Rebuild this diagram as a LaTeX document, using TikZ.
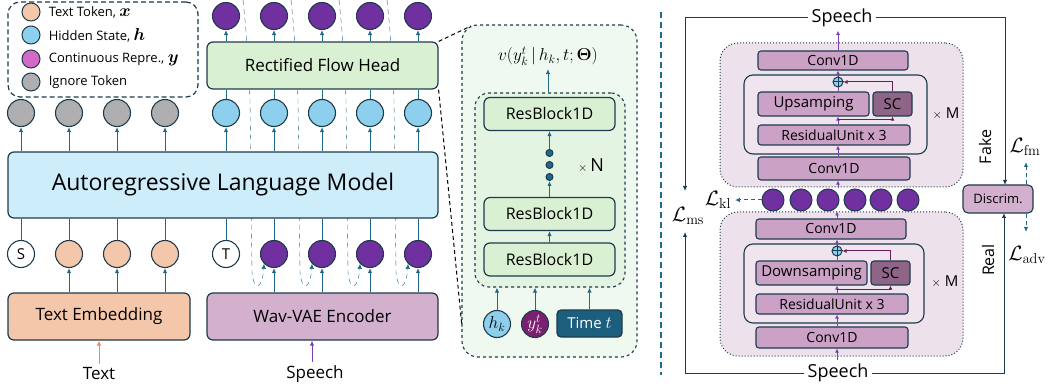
\documentclass[tikz,border=0pt]{standalone}
\usepackage[no-math]{fontspec}
\setmainfont{Open Sans}
\usepackage{amsmath,bm}
\usetikzlibrary{arrows.meta,backgrounds,calc}
\tikzset{
every picture/.style={
line width=1pt
}}
\definecolor{edge}{HTML}{1D3B4C}
\definecolor{link}{HTML}{1F6A8A}
\definecolor{peach}{HTML}{F5C7AA}
\definecolor{sky}{HTML}{8DCFEC}
\definecolor{almfill}{HTML}{CDEDFA}
\definecolor{mint}{HTML}{D9F0D2}
\definecolor{tokpurple}{HTML}{7030A0}
\definecolor{legpurple}{HTML}{D36AC8}
\definecolor{ignore}{HTML}{AFAFAF}
\definecolor{vae}{HTML}{D4B0CF}
\definecolor{zoomfill}{HTML}{EFF9EF}
\definecolor{zoominner}{HTML}{E4F4E2}
\definecolor{timefill}{HTML}{1B5E7E}
\definecolor{ykfill}{HTML}{7B2070}
\definecolor{conv}{HTML}{CCA1C6}
\definecolor{scfill}{HTML}{8E6487}
\definecolor{vaebg}{HTML}{EDE1EB}
\definecolor{stagebg}{HTML}{F0E4EE}
\definecolor{flow}{HTML}{7B3FB0}
\definecolor{skip}{HTML}{6B1A5A}
\definecolor{textarrow}{HTML}{F08A4B}
\newcommand{\fsz}[1]{\fontsize{#1}{#1}\selectfont}

\begin{document}
\begin{tikzpicture}[x=1pt, y=-1pt,
block/.style = {rectangle, draw=edge, line width=1.2pt, rounded corners=6pt, inner sep=0pt, font=\fsz{17}},
tok/.style = {circle, draw=edge, line width=1.1pt, minimum size=27pt, inner sep=0pt, font=\fsz{15}},
legtok/.style = {circle, draw=edge, line width=1pt, minimum size=18pt, inner sep=0pt},
legtext/.style = {anchor=west, font=\fsz{13}},
arr/.style = {draw=link, -{Latex[length=5pt,width=4.5pt]}},
wire/.style = {draw=link},
fback/.style = {draw=link, dash pattern=on 5pt off 4pt, -{Latex[length=5pt,width=4.5pt]}},
zoomline/.style = {draw=black, dash pattern=on 4pt off 3pt},
layer/.style = {rectangle, draw=edge, line width=1.1pt, rounded corners=3pt, fill=conv, inner sep=0pt, font=\fsz{14}},
vaebox/.style = {rectangle, draw=edge, dotted, line width=1pt, rounded corners=18pt, fill=vaebg},
stage/.style = {rectangle, draw=edge, line width=1.1pt, rounded corners=9pt, fill=stagebg},
plus/.style = {circle, draw=edge, fill=sky, minimum size=10pt, inner sep=0pt},
lat/.style = {circle, draw=edge, fill=tokpurple, minimum size=22pt, inner sep=0pt},
flowarr/.style = {draw=flow, -{Latex[length=4pt,width=4pt]}},
skiparr/.style = {draw=skip, -{Latex[length=4pt,width=4pt]}},
loss/.style = {draw=edge, -{Latex[length=5pt,width=4.5pt]}},
lossarr/.style = {draw=link, dash pattern=on 4pt off 3pt, -{Latex[length=5pt,width=4.5pt]}},
mathlbl/.style = {font=\fsz{20}}]
\useasboundingbox (0,0) rectangle (1047,390);

% legend
\node[draw=edge, line width=1.2pt, dash pattern=on 5pt off 3pt, rounded corners=12pt, minimum width=190pt, minimum height=95pt] (legend) at (103,49.5) {};
\node[legtok, fill=peach] (kx) at (31,12) {};
\node[legtok, fill=sky] (kh) at (31,35) {};
\node[legtok, fill=legpurple] (ky) at (31,59) {};
\node[legtok, fill=ignore] (kg) at (31,82) {};
\node[legtext] at (45,12) {Text Token, {\fsz{17}$\boldsymbol{x}$}};
\node[legtext] at (45,35) {Hidden State, {\fsz{17}$\boldsymbol{h}$}};
\node[legtext] at (45,59) {Continuous Repre., {\fsz{17}$\boldsymbol{y}$}};
\node[legtext] at (45,82) {Ignore Token};

% main blocks
\node[block, fill=mint, minimum width=231pt, minimum height=47pt] (rfh) at (322.5,65.5) {Rectified Flow Head};
\node[block, fill=almfill, minimum width=430pt, minimum height=66pt, font=\fsz{23}] (alm) at (223,185) {Autoregressive Language Model};
\node[block, fill=peach, minimum width=182pt, minimum height=47pt] (temb) at (99,316.5) {Text Embedding};
\node[block, fill=vae, minimum width=231pt, minimum height=47pt] (venc) at (322.5,316.5) {Wav-VAE Encoder};

% tokens
\foreach \i/\x in {1/21,2/69,3/117,4/165} {
  \node[tok, fill=ignore] (g\i) at (\x,113) {};
  \draw[arr] (alm.north -| g\i) -- (g\i);
}
\foreach \i/\x in {1/226,2/274,3/322,4/370,5/418} {
  \node[tok, fill=sky] (h\i) at (\x,113) {};
  \node[tok, fill=tokpurple] (o\i) at (\x,16) {};
  \draw[arr] (alm.north -| h\i) -- (h\i);
  \draw[wire] (h\i) -- (rfh.south -| h\i);
  \draw[arr] (rfh.north -| o\i) -- (o\i);
}
\node[tok, fill=white] (s) at (21,254) {S};
\draw[wire] (s) -- (alm.south -| s);
\foreach \i/\x in {1/69,2/117,3/165} {
  \node[tok, fill=peach] (x\i) at (\x,254) {};
  \draw[arr] (temb.north -| x\i) -- (x\i);
  \draw[wire] (x\i) -- (alm.south -| x\i);
}
\node[tok, fill=white] (t) at (226,254) {T};
\draw[wire] (t) -- (alm.south -| t);
\foreach \i/\x in {1/274,2/322,3/370,4/418} {
  \node[tok, fill=tokpurple] (p\i) at (\x,254) {};
  \draw[arr] (venc.north -| p\i) -- (p\i);
  \draw[wire] (p\i) -- (alm.south -| p\i);
}
\node[font=\fsz{17}] (txt) at (99,374) {Text};
\node[font=\fsz{17}] (spl) at (315,374) {Speech};
\draw[draw=textarrow, -{Latex[length=5pt,width=4.5pt]}] (txt.north) -- (temb.south -| txt);
\draw[draw=flow, -{Latex[length=5pt,width=4.5pt]}] (spl.north -| 312,0) -- (venc.south -| 312,0);

% feedback of generated latents
\begin{scope}[on background layer]
\foreach \i/\x in {1/243,2/291,3/339,4/387} {
  \coordinate (fb\i) at (\x,0);
  \draw[fback] (fb\i) .. controls (\x+4,40) .. (\x+7,100) -- (\x+9,272) .. controls (\x+11,292) and (\x+19,290) .. (p\i.south west);
}
\end{scope}

% zoom of the flow head
\node[draw=edge, dashed, line width=1.1pt, fill=zoomfill, rounded corners=16pt, minimum width=175pt, minimum height=332pt] (zoom) at (549.5,191) {};
\node[draw=edge, dashed, line width=1.1pt, fill=zoominner, rounded corners=14pt, minimum width=150pt, minimum height=194pt] (stack) at (550,190) {};
\coordinate (zA) at (471,26);
\coordinate (zB) at (462,327);
\draw[zoomline] (rfh.north east) -- (zA);
\draw[zoomline] (rfh.south east) -- (zB);
\node[font=\fsz{18}] (vel) at (548,56) {$v(y_k^t\,|\,h_k,t;\boldsymbol{\Theta})$};
\node[block, fill=mint, minimum width=131pt, minimum height=33pt, font=\fsz{16}] (rb3) at (549.5,114) {ResBlock1D};
\node[block, fill=mint, minimum width=131pt, minimum height=33pt, font=\fsz{16}] (rb2) at (549.5,214) {ResBlock1D};
\node[block, fill=mint, minimum width=131pt, minimum height=33pt, font=\fsz{16}] (rb1) at (549.5,259.5) {ResBlock1D};
\foreach \i/\y in {1/153,2/165,3/177}
  \node[circle, fill=link, draw=edge, minimum size=7pt, inner sep=0pt] (d\i) at (549.5,\y) {};
\node[font=\fsz{18}] (nrep) at (591,166) {{\fsz{12}$\times$}\,N};
\node[tok, fill=sky, font=\fsz{18}] (hk) at (497,324) {$h_k$};
\node[tok, fill=ykfill, text=white, font=\fsz{18}] (yk) at (535,324) {$y_k^t$};
\node[block, fill=timefill, text=white, rounded corners=4pt, minimum width=65pt, minimum height=27pt, font=\fsz{15}] (time) at (589.5,323.5) {Time {\fsz{17}$t$}};
\draw[arr] (stack.north -| vel) -- (vel);
\draw[arr] (d1) -- (rb3.south -| d1);
\draw[arr] (rb2.north -| d3) -- (d3);
\draw[arr] (rb1) -- (rb2);
\draw[arr] (hk) -- (stack.south -| hk);
\draw[arr] (yk) -- (stack.south -| yk);
\draw[arr] (time) -- (stack.south -| time);

% separator
\coordinate (sepA) at (661,12);
\coordinate (sepB) at (661,375);
\draw[draw=link, line width=1.4pt, dash pattern=on 6pt off 4pt] (sepA) -- (sepB);

% wav-vae
\node[vaebox, minimum width=243pt, minimum height=144pt] (dec) at (841.5,115) {};
\node[vaebox, minimum width=243pt, minimum height=144pt] (enc) at (841.5,284) {};
\node[stage, minimum width=183pt, minimum height=79pt] (decblk) at (835.5,114.5) {};
\node[stage, minimum width=180pt, minimum height=79pt] (encblk) at (834,283.5) {};

\node[layer, minimum width=150pt, minimum height=19pt] (convA) at (833,60.5) {Conv1D};
\node[layer, minimum width=111pt, minimum height=24pt, font=\fsz{15}] (ups) at (813.5,104) {Upsamping};
\node[layer, fill=scfill, minimum width=39pt, minimum height=24pt, font=\fsz{15}] (scA) at (892.5,104) {SC};
\node[layer, minimum width=152pt, minimum height=20pt] (resA) at (834,135) {ResidualUnit x 3};
\node[layer, minimum width=152pt, minimum height=23pt] (convB) at (834,168.5) {Conv1D};
\node[plus] (plusA) at (838,82) {};
\draw[draw=edge] (plusA.north) -- (plusA.south) (plusA.west) -- (plusA.east);
\node[font=\fsz{15}] (mA) at (946,114) {{\fsz{13}$\times$} M};

\node[layer, minimum width=150pt, minimum height=20pt] (convC) at (831,229) {Conv1D};
\node[layer, minimum width=111pt, minimum height=24pt, font=\fsz{15}] (down) at (811.5,273) {Downsamping};
\node[layer, fill=scfill, minimum width=39pt, minimum height=24pt, font=\fsz{15}] (scB) at (890.5,273) {SC};
\node[layer, minimum width=152pt, minimum height=20pt] (resB) at (832,304) {ResidualUnit x 3};
\node[layer, minimum width=152pt, minimum height=21pt] (convD) at (832,337.5) {Conv1D};
\node[plus] (plusB) at (837,251) {};
\draw[draw=edge] (plusB.north) -- (plusB.south) (plusB.west) -- (plusB.east);
\node[font=\fsz{15}] (mB) at (945,282) {{\fsz{13}$\times$} M};

\foreach \i/\x in {1/773,2/801,3/828,4/855,5/881,6/908}
  \node[lat] (z\i) at (\x,200) {};

\node[font=\fsz{18}] (spout) at (842,18) {Speech};
\node[font=\fsz{18}] (spin) at (838,373) {Speech};
\node[layer, fill=vae, rounded corners=5pt, minimum width=70pt, minimum height=28pt, font=\fsz{13}] (disc) at (998,199) {Discrim.};
\node[rotate=90, font=\fsz{16}] (fake) at (985,147) {Fake};
\node[rotate=90, font=\fsz{16}] (real) at (988,260) {Real};
\node[mathlbl] (lfm) at (1025,147) {$\mathcal{L}_{\mathrm{fm}}$};
\node[mathlbl] (ladv) at (1027,255) {$\mathcal{L}_{\mathrm{adv}}$};
\node[mathlbl] (lkl) at (718,200) {$\mathcal{L}_{\mathrm{kl}}$};
\node[mathlbl] (lms) at (688,216) {$\mathcal{L}_{\mathrm{ms}}$};

% encoder path
\draw[flowarr] (spin.north -| plusB) -- (convD.south -| plusB);
\draw[flowarr] (convD.north -| plusB) -- (resB.south -| plusB);
\draw[flowarr] (resB.north -| plusB) -- (down.south -| plusB);
\draw[draw=flow] (down.north -| plusB) -- (plusB);
\draw[skiparr] ($(resB.north -| plusB)+(0,-4)$) -| (scB.south);
\draw[skiparr] (scB.north) |- (plusB.east);
\draw[flowarr] (plusB.north) -- (convC.south -| plusB);
\draw[flowarr] (convC.north -| plusB) -- (z3.south -| plusB);
% decoder path
\draw[flowarr] (z3.north -| plusA) -- (convB.south -| plusA);
\draw[flowarr] (convB.north -| plusA) -- (resA.south -| plusA);
\draw[flowarr] (resA.north -| plusA) -- (ups.south -| plusA);
\draw[draw=flow] (ups.north -| plusA) -- (plusA);
\draw[skiparr] ($(resA.north -| plusA)+(0,-5)$) -| (scA.south);
\draw[skiparr] (scA.north) |- (plusA.east);
\draw[flowarr] (plusA.north) -- (convA.south -| plusA);
\draw[flowarr] (convA.north -| plusA) -- (spout.south -| plusA);

% losses
\coordinate (msA) at (685,191);
\coordinate (msB) at (685,232);
\coordinate (fk) at (1005,185);
\coordinate (rl) at (1004,213);
\coordinate (fmtip) at (1026,162);
\coordinate (advtip) at (1026,232);
\draw[loss] (spout.west) -| (msA);
\draw[loss] (spin.west) -| (msB);
\draw[loss] (spout.east) -| (fk);
\draw[loss] (spin.east) -| (rl);
\draw[lossarr] (z1.west) -- (lkl.east);
\draw[lossarr] (disc.north -| fmtip) -- (fmtip);
\draw[lossarr] (disc.south -| advtip) -- (advtip);
\end{tikzpicture}
\end{document}
